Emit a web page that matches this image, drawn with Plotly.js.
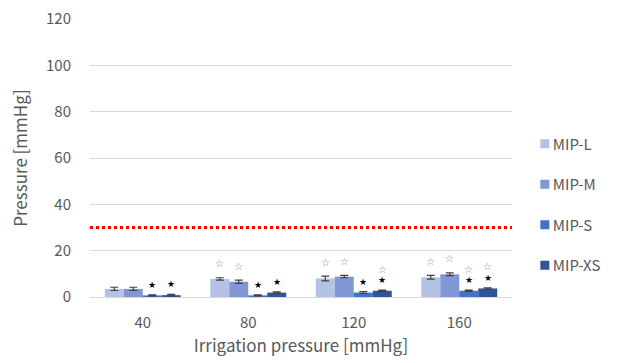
<!DOCTYPE html>
<html>
<head>
<meta charset="utf-8">
<script src="https://cdn.plot.ly/plotly-3.0.1.min.js"></script>
<style>html,body{margin:0;padding:0;background:#fff}#chart{width:620px;height:363px}</style>
</head>
<body>
<div id="chart"></div>
<script>
// Data
const categories = ['40', '80', '120', '160'];
const seriesNames = ['MIP-L', 'MIP-M', 'MIP-S', 'MIP-XS'];
const mipL = [3.5, 7.8, 8.0, 8.5];
const mipM = [3.5, 6.6, 8.8, 9.8];
const mipS = [0.7, 0.7, 1.9, 2.7];
const mipXS = [0.8, 1.9, 2.7, 3.7];
const errL = [0.7, 0.5, 1.0, 0.8];
const errM = [0.7, 0.7, 0.5, 0.6];
const errS = [0.2, 0.2, 0.4, 0.3];
const errXS = [0.3, 0.3, 0.3, 0.3];
// significance marks (1 = shown)
const filledL = [0, 0, 0, 0];
const filledM = [0, 0, 0, 0];
const filledS = [1, 1, 1, 1];
const filledXS = [1, 1, 1, 1];
const hollowL = [0, 1, 1, 1];
const hollowM = [0, 1, 1, 1];
const hollowS = [0, 0, 0, 1];
const hollowXS = [0, 0, 1, 1];
const thresholdValue = 30;

const colors = ['#b4c2e6', '#7f98d5', '#4472c4', '#2f5597'];
const values = [mipL, mipM, mipS, mipXS];
const errs = [errL, errM, errS, errXS];
const filled = [filledL, filledM, filledS, filledXS];
const hollow = [hollowL, hollowM, hollowS, hollowXS];

const font = "'Noto Sans CJK JP', 'Noto Sans', sans-serif";
const gray = '#595959';

const traces = seriesNames.map((name, i) => ({
  type: 'bar',
  name: name,
  x: categories,
  y: values[i],
  marker: {color: colors[i]},
  legendgroup: name,
  error_y: {type: 'data', array: errs[i], visible: true, color: '#404040', thickness: 1.2, width: 4}
}));

const bargap = 0.28;
const bw = (1 - bargap) / 4;
const annotations = [];
for (let i = 0; i < 4; i++) {
  for (let c = 0; c < categories.length; c++) {
    const xpos = c + (i - 1.5) * bw;
    const top = values[i][c] + errs[i][c];
    if (filled[i][c]) {
      annotations.push({x: xpos, y: top, xref: 'x', yref: 'y', text: '★', showarrow: false,
        yshift: 10, font: {family: 'DejaVu Sans', size: 9, color: '#000'}});
    }
    if (hollow[i][c]) {
      annotations.push({x: xpos, y: top, xref: 'x', yref: 'y', text: '☆', showarrow: false,
        yshift: filled[i][c] ? 21 : 14, font: {family: 'DejaVu Sans', size: 10, color: '#808080'}});
    }
  }
}

const layout = {
  width: 620, height: 363,
  margin: {l: 90, r: 108, t: 19, b: 66},
  paper_bgcolor: '#fff', plot_bgcolor: '#fff',
  font: {family: font, color: gray, size: 15},
  barmode: 'group',
  bargap: bargap,
  bargroupgap: 0,
  showlegend: true,
  legend: {x: 1.002, xanchor: 'left', y: 0.333, yanchor: 'middle', traceorder: 'grouped',
    tracegroupgap: 18, font: {family: font, size: 15, color: gray}},
  xaxis: {
    type: 'category', showgrid: false, zeroline: false, showline: true, linecolor: '#d9d9d9',
    ticks: '', ticklabelstandoff: 12, tickfont: {size: 15, color: gray},
    title: {text: 'Irrigation pressure [mmHg]', font: {size: 17, color: gray}, standoff: 9}
  },
  yaxis: {
    range: [0, 120], tickvals: [0, 20, 40, 60, 80, 100, 120], showgrid: true, gridcolor: '#d9d9d9',
    zeroline: false, showline: false, ticks: '', ticklabelstandoff: 18,
    tickfont: {size: 15, color: gray},
    title: {text: 'Pressure [mmHg]', font: {size: 17, color: gray}, standoff: 14}
  },
  shapes: [{type: 'line', xref: 'paper', x0: 0, x1: 1, yref: 'y', y0: thresholdValue, y1: thresholdValue,
    line: {color: '#ff0000', width: 3, dash: 'dot'}}],
  annotations: annotations
};

Plotly.newPlot('chart', traces, layout, {displayModeBar: false, staticPlot: true}).then(() => {
  // smaller legend squares placed next to the labels, as in the reference
  document.querySelectorAll('#chart .legendpoints path').forEach(p => {
    p.setAttribute('d', 'M4.5,4.5H-4.5V-4.5H4.5Z');
    p.setAttribute('transform', 'translate(32,0)');
  });
});
</script>
</body>
</html>
